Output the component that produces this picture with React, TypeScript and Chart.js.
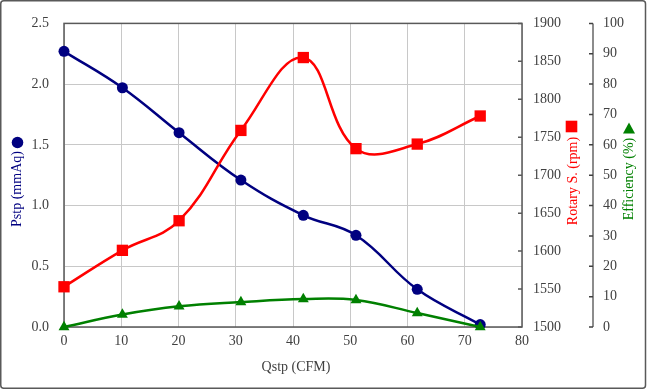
import React, { useEffect, useRef } from 'react';
import { Chart, registerables } from 'chart.js';

Chart.register(...registerables);

// ---- data ----
const qstp = [0, 10.2, 20.1, 30.9, 41.8, 51.0, 61.7, 72.7];
const pstp = [2.27, 1.97, 1.6, 1.21, 0.92, 0.755, 0.31, 0.02];
const rotarySpeed = [1553, 1601, 1640, 1759, 1855, 1735, 1741, 1778];
const efficiency = [0, 4.1, 6.8, 8.2, 9.2, 8.9, 4.6, 0];

const xTitle = 'Qstp (CFM)';
const pTitle = 'Pstp (mmAq)';
const rpmTitle = 'Rotary S. (rpm)';
const effTitle = 'Efficiency (%)';

const FONT = '"Liberation Serif", "Times New Roman", serif';
const TICK_COLOR = '#404040';
const NAVY = '#000080';
const RED = '#ff0000';
const GREEN = '#008000';

const toPoints = (ys: number[]) => ys.map((y, i) => ({ x: qstp[i], y }));

const decor = {
  id: 'decor',
  beforeDraw(chart: any) {
    const ctx = chart.ctx;
    ctx.save();
    ctx.fillStyle = '#ffffff';
    ctx.fillRect(0, 0, chart.width, chart.height);
    ctx.restore();
  },
  beforeDatasetsDraw(chart: any) {
    const { ctx, chartArea: a, scales } = chart;
    ctx.save();
    // plot area frame
    ctx.strokeStyle = '#595959';
    ctx.lineWidth = 1.5;
    ctx.strokeRect(a.left, a.top, a.right - a.left, a.bottom - a.top);
    // inside tick marks of rpm axis
    ctx.beginPath();
    scales.y1.ticks.forEach((t: any) => {
      const y = scales.y1.getPixelForValue(t.value);
      ctx.moveTo(a.right - 4, y);
      ctx.lineTo(a.right, y);
    });
    ctx.stroke();
    // efficiency axis line
    const x2 = scales.y2.left;
    ctx.strokeStyle = '#8c8c8c';
    ctx.lineWidth = 2;
    ctx.beginPath();
    ctx.moveTo(x2, a.top);
    ctx.lineTo(x2, a.bottom);
    ctx.stroke();
    ctx.strokeStyle = '#404040';
    ctx.lineWidth = 1.5;
    ctx.beginPath();
    scales.y2.ticks.forEach((t: any) => {
      const y = scales.y2.getPixelForValue(t.value);
      ctx.moveTo(x2 - 4, y);
      ctx.lineTo(x2, y);
    });
    ctx.stroke();
    ctx.restore();
  },
  afterDraw(chart: any) {
    const { ctx, chartArea: a } = chart;
    ctx.save();
    ctx.font = `14px ${FONT}`;
    ctx.textAlign = 'center';
    ctx.textBaseline = 'middle';

    // x title
    ctx.fillStyle = TICK_COLOR;
    ctx.fillText(xTitle, (a.left + a.right) / 2 + 3, a.bottom + 40);

    const vText = (text: string, x: number, y: number, color: string) => {
      ctx.save();
      ctx.translate(x, y);
      ctx.rotate(-Math.PI / 2);
      ctx.fillStyle = color;
      ctx.fillText(text, 0, 0);
      ctx.restore();
    };

    // left title + circle marker
    vText(pTitle, 17, 189, NAVY);
    ctx.fillStyle = NAVY;
    ctx.beginPath();
    ctx.arc(17.5, 142.5, 5.8, 0, Math.PI * 2);
    ctx.fill();

    // rpm title + square marker
    vText(rpmTitle, 573, 181, RED);
    ctx.fillStyle = RED;
    ctx.fillRect(571.5 - 5.8, 126.5 - 5.8, 11.6, 11.6);

    // efficiency title + triangle marker
    vText(effTitle, 629, 179, GREEN);
    ctx.fillStyle = GREEN;
    ctx.beginPath();
    ctx.moveTo(629, 122.5);
    ctx.lineTo(635, 133.5);
    ctx.lineTo(623, 133.5);
    ctx.closePath();
    ctx.fill();

    // outer frame
    ctx.strokeStyle = '#595959';
    ctx.lineWidth = 1.5;
    const w = chart.width, h = chart.height;
    const r = 3;
    const x0 = 0.75, y0 = 0.75, x1 = w - 1.5, y1 = h - 1.75;
    ctx.beginPath();
    ctx.moveTo(x0 + r, y0);
    ctx.lineTo(x1 - r, y0);
    ctx.arcTo(x1, y0, x1, y0 + r, r);
    ctx.lineTo(x1, y1 - r);
    ctx.arcTo(x1, y1, x1 - r, y1, r);
    ctx.lineTo(x0 + r, y1);
    ctx.arcTo(x0, y1, x0, y1 - r, r);
    ctx.lineTo(x0, y0 + r);
    ctx.arcTo(x0, y0, x0 + r, y0, r);
    ctx.closePath();
    ctx.stroke();
    ctx.restore();
  },
};

export default function App() {
  const ref = useRef<HTMLCanvasElement | null>(null);

  useEffect(() => {
    if (!ref.current) return;
    const tickFont = { family: FONT, size: 14 };
    const chart = new Chart(ref.current, {
      type: 'line',
      data: {
        datasets: [
          {
            label: effTitle,
            data: toPoints(efficiency),
            yAxisID: 'y2',
            borderColor: GREEN,
            backgroundColor: GREEN,
            borderWidth: 2.5,
            tension: 0.4,
            pointStyle: 'triangle',
            pointRadius: 6.3,
            pointBorderWidth: 0,
            pointBackgroundColor: GREEN,
            clip: false,
            order: 0,
          },
          {
            label: rpmTitle,
            data: toPoints(rotarySpeed),
            yAxisID: 'y1',
            borderColor: RED,
            backgroundColor: RED,
            borderWidth: 2.5,
            tension: 0.4,
            pointStyle: 'rect',
            pointRadius: 8,
            pointBorderWidth: 0,
            pointBackgroundColor: RED,
            clip: false,
            order: 1,
          },
          {
            label: pTitle,
            data: toPoints(pstp),
            yAxisID: 'y',
            borderColor: NAVY,
            backgroundColor: NAVY,
            borderWidth: 2.5,
            tension: 0.4,
            pointStyle: 'circle',
            pointRadius: 5.5,
            pointBorderWidth: 0,
            pointBackgroundColor: NAVY,
            clip: false,
            order: 2,
          },
        ],
      },
      options: {
        responsive: false,
        animation: false,
        layout: { padding: { top: 19, left: 0, right: 0, bottom: 0 } },
        plugins: { legend: { display: false }, tooltip: { enabled: false } },
        scales: {
          x: {
            type: 'linear',
            min: 0,
            max: 80,
            ticks: { stepSize: 10, font: tickFont, color: TICK_COLOR, padding: 6, maxRotation: 0 },
            grid: { color: '#c8c8c8', lineWidth: 1, drawTicks: false },
            border: { display: false },
            afterFit: (s: any) => { s.height = 63; },
          },
          y: {
            type: 'linear',
            position: 'left',
            min: 0,
            max: 2.5,
            ticks: { stepSize: 0.5, font: tickFont, color: TICK_COLOR, padding: 15, callback: (v: any) => Number(v).toFixed(1) },
            grid: { color: '#c8c8c8', lineWidth: 1, drawTicks: false },
            border: { display: false },
            afterFit: (s: any) => { s.width = 64; },
          },
          y1: {
            type: 'linear',
            position: 'right',
            min: 1500,
            max: 1900,
            ticks: { stepSize: 50, font: tickFont, color: TICK_COLOR, padding: 11, callback: (v: any) => String(v) },
            grid: { display: false, drawTicks: false },
            border: { display: false },
            afterFit: (s: any) => { s.width = 71; },
          },
          y2: {
            type: 'linear',
            position: 'right',
            min: 0,
            max: 100,
            ticks: { stepSize: 10, font: tickFont, color: TICK_COLOR, padding: 10, callback: (v: any) => String(v) },
            grid: { display: false, drawTicks: false },
            border: { display: false },
            afterFit: (s: any) => { s.width = 54; },
          },
        },
      },
      plugins: [decor],
    } as any);
    return () => chart.destroy();
  }, []);

  return (
    <div style={{ position: 'fixed', left: 0, top: 0, width: 647, height: 390, background: '#fff' }}>
      <canvas ref={ref} width={647} height={390} style={{ width: 647, height: 390, display: 'block' }} />
    </div>
  );
}
